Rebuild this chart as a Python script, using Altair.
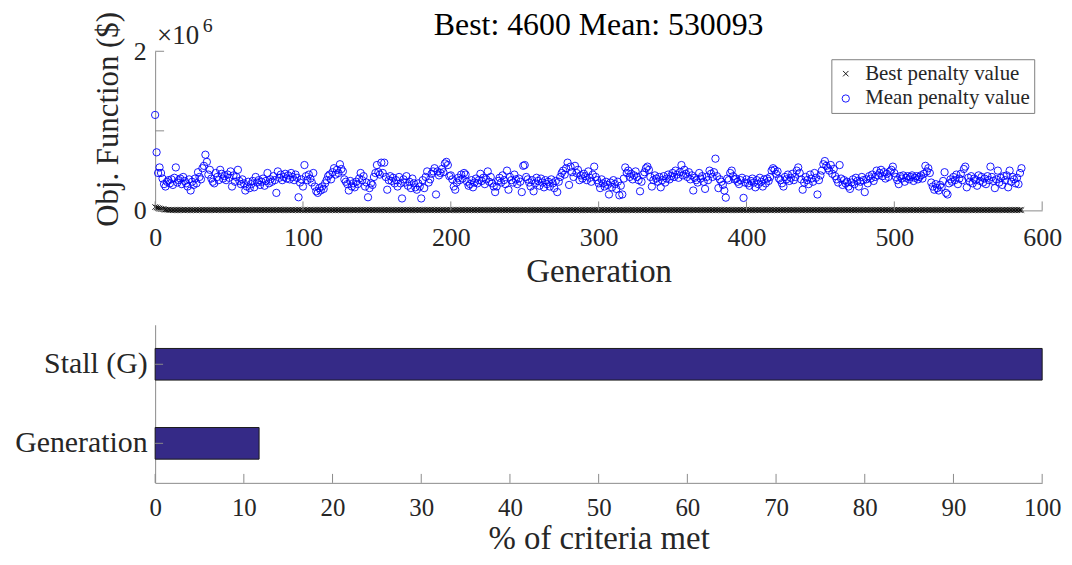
import altair as alt
import pandas as pd

# ---------------- data ----------------
# mean penalty value per generation (in thousands of $), generations 0..586
mean_k = [
    1200, 730, 470, 540, 470, 400, 330, 300, 360, 380,
    340, 390, 320, 410, 540, 350, 380, 400, 330, 420,
    370, 340, 300, 390, 250, 360, 320, 400, 340, 480,
    420, 390, 530, 560, 700, 610, 450, 510, 400, 360,
    340, 470, 420, 380, 510, 460, 400, 430, 380, 450,
    410, 490, 300, 440, 360, 420, 510, 370, 330, 390,
    340, 250, 300, 360, 280, 330, 370, 290, 420, 350,
    380, 320, 360, 400, 310, 370, 470, 340, 390, 360,
    430, 380, 220, 490, 410, 450, 380, 420, 460, 400,
    440, 390, 470, 420, 380, 450, 410, 165, 350, 390,
    300, 570, 430, 380, 450, 400, 350, 470, 300, 240,
    220, 280, 250, 300, 270, 340, 380, 430, 450, 390,
    480, 530, 450, 510, 470, 580, 520, 490, 390, 360,
    330, 250, 370, 300, 340, 290, 360, 330, 400, 470,
    380, 430, 300, 350, 165, 280, 340, 320, 420, 470,
    570, 480, 450, 600, 470, 600, 420, 260, 380, 430,
    370, 410, 340, 380, 300, 420, 340, 150, 390, 350,
    430, 310, 360, 280, 400, 340, 290, 260, 340, 300,
    150, 380, 280, 420, 490, 350, 390, 460, 490, 530,
    200, 490, 440, 470, 520, 480, 590, 610, 570, 430,
    440, 390, 300, 260, 350, 410, 380, 450, 400, 470,
    450, 360, 310, 330, 380, 290, 350, 400, 340, 380,
    460, 370, 410, 330, 390, 490, 360, 420, 340, 300,
    230, 300, 370, 410, 350, 440, 380, 330, 500, 260,
    420, 380, 350, 450, 390, 330, 400, 360, 230, 560,
    570, 420, 390, 350, 300, 380, 240, 340, 410, 370,
    310, 400, 350, 290, 380, 330, 360, 300, 390, 340,
    280, 370, 230, 360, 420, 470, 500, 450, 530, 600,
    320, 550, 480, 420, 560, 470, 510, 380, 440, 400,
    460, 430, 380, 490, 410, 360, 450, 550, 420, 380,
    340, 280, 390, 340, 300, 360, 320, 200, 350, 290,
    380, 330, 270, 360, 190, 310, 200, 400, 540, 470,
    500, 420, 460, 390, 440, 490, 420, 380, 240, 360,
    450, 480, 530, 550, 510, 420, 300, 380, 440, 400,
    360, 420, 290, 380, 430, 350, 400, 450, 390, 430,
    470, 420, 500, 450, 410, 480, 570, 440, 510, 460,
    420, 480, 390, 440, 250, 410, 380, 350, 470, 400,
    430, 360, 270, 420, 380, 500, 460, 420, 480, 650,
    430, 280, 390, 360, 320, 250, 160, 400, 380, 470,
    500, 430, 390, 400, 360, 330, 380, 410, 157, 350,
    390, 340, 310, 370, 400, 350, 290, 380, 330, 410,
    360, 300, 390, 340, 400, 370, 420, 500, 530, 510,
    460, 490, 400, 380, 340, 300, 420, 390, 450, 370,
    410, 460, 380, 420, 500, 540, 470, 390, 260, 350,
    420, 380, 330, 450, 400, 360, 470, 410, 200, 380,
    440, 500, 580, 620, 560, 530, 500, 570, 460, 520,
    430, 390, 350, 570, 400, 320, 380, 340, 360, 300,
    270, 350, 390, 330, 410, 370, 300, 360, 420, 380,
    230, 390, 340, 430, 400, 450, 370, 420, 500, 440,
    470, 510, 430, 480, 400, 460, 420, 490, 510, 550,
    470, 420, 380, 330, 430, 400, 440, 360, 410, 430,
    390, 420, 440, 370, 410, 430, 390, 420, 440, 400,
    460, 560, 490, 530, 470, 350, 300, 260, 330, 280,
    250, 320, 290, 370, 480, 220, 200, 340, 390, 360,
    420, 380, 450, 330, 400, 460, 380, 520, 550, 290,
    410, 360, 430, 340, 400, 380, 310, 440, 370, 420,
    350, 400, 330, 430, 380, 550, 420, 370, 280, 390,
    500, 350, 410, 320, 430, 380, 440, 290, 500, 360,
    420, 390, 340, 410, 330, 470, 530.093,
]
n_gen = len(mean_k)
generations = list(range(n_gen))

# best penalty value ($): early decline, then stalled at 4600
best_head = [42000, 36000, 30000, 25000, 20000, 16000, 13000, 10000, 8000, 6500, 5500, 5000]
best_stall = 4600
best = best_head + [best_stall] * (n_gen - len(best_head))

series_names = ["Best penalty value", "Mean penalty value"]

criteria = ["Stall (G)", "Generation"]
criteria_pct = [100.0, 11.72]

top_xticks = [0, 100, 200, 300, 400, 500, 600]
top_yticks = [0, 1, 2]
bot_xticks = [0, 10, 20, 30, 40, 50, 60, 70, 80, 90, 100]

title_text = "Best: 4600 Mean: 530093"

# ---------------- tables ----------------
pts = pd.DataFrame({
    "gen": generations * 2,
    "val": [b / 1e6 for b in best] + [m / 1e3 for m in mean_k],
    "series": [series_names[0]] * n_gen + [series_names[1]] * n_gen,
})
bars_df = pd.DataFrame({"crit": criteria, "pct": criteria_pct})

# ---------------- style ----------------
FONT = "Liberation Serif"
AX = "#8a8a8a"
TXT = "#262626"
W = 892
H1 = 160
H2 = 159
TICK = 9
XPATH = "M-1,-1L1,1M-1,1L1,-1"

xsc = alt.Scale(domain=[0, 600], nice=False, zero=False)
ysc = alt.Scale(domain=[0, 2], nice=False)

leg = alt.Legend(
    title=None, orient="none", legendX=680, legendY=8, direction="vertical",
    strokeColor="#7f7f7f", fillColor="white", padding=4, rowPadding=3,
    labelFont=FONT, labelFontSize=21, labelColor=TXT, labelOffset=9, labelLimit=400,
    symbolStrokeWidth=0.9,
)

points = alt.Chart(pts).mark_point(filled=False, strokeWidth=0.9, opacity=1).encode(
    x=alt.X("gen:Q", scale=xsc, axis=alt.Axis(
        values=top_xticks, title="Generation", labelFontSize=26, labelPadding=14, labelFlush=False,
        titleFontSize=33, titleX=W / 2, titleY=72, titleBaseline="alphabetic")),
    y=alt.Y("val:Q", scale=ysc, axis=alt.Axis(
        values=top_yticks, format="d", title="Obj. Function ($)", labelFontSize=26, labelPadding=9,
        labelFlush=False,
        titleFontSize=31, titleAngle=270, titleX=-38, titleY=68,
        titleAlign="center", titleBaseline="alphabetic")),
    color=alt.Color("series:N", scale=alt.Scale(domain=series_names, range=["#000000", "#0000ff"]), legend=leg),
    shape=alt.Shape("series:N", scale=alt.Scale(domain=series_names, range=[XPATH, "circle"]), legend=leg),
    size=alt.Size("series:N", scale=alt.Scale(domain=series_names, range=[30, 54]), legend=leg),
)

xt_top = alt.Chart(pd.DataFrame({"gen": top_xticks})).mark_rule(color=AX, strokeWidth=1).encode(
    x=alt.X("gen:Q", scale=xsc), y=alt.value(H1), y2=alt.value(H1 - TICK))
yt_top = alt.Chart(pd.DataFrame({"val": top_yticks})).mark_rule(color=AX, strokeWidth=1).encode(
    y=alt.Y("val:Q", scale=ysc), x=alt.value(0), x2=alt.value(TICK))

title_mark = alt.Chart(pd.DataFrame({"t": [title_text]})).mark_text(
    font=FONT, fontSize=32, color="#000000", align="center", baseline="alphabetic").encode(
    text="t:N", x=alt.value(W / 2), y=alt.value(-16))
exp_base = alt.Chart(pd.DataFrame({"t": ["\u00d710"]})).mark_text(
    font=FONT, fontSize=27, color=TXT, align="left", baseline="alphabetic").encode(
    text="t:N", x=alt.value(2), y=alt.value(-7))
exp_pow = alt.Chart(pd.DataFrame({"t": ["6"]})).mark_text(
    font=FONT, fontSize=20, color=TXT, align="left", baseline="alphabetic").encode(
    text="t:N", x=alt.value(48), y=alt.value(-19))

top = alt.layer(points, xt_top, yt_top, title_mark, exp_base, exp_pow).properties(width=W, height=H1)

bxsc = alt.Scale(domain=[0, 100], nice=False)
bysc = alt.Scale(domain=criteria, paddingInner=0.6, paddingOuter=0.3)

bars = alt.Chart(bars_df).mark_bar(color="#352A87", stroke="#1a1a1a", strokeWidth=1).encode(
    x=alt.X("pct:Q", scale=bxsc, axis=alt.Axis(
        values=bot_xticks, title="% of criteria met", labelFontSize=25, labelPadding=13, labelFlush=False,
        titleFontSize=33, titleX=W / 2, titleY=66, titleBaseline="alphabetic")),
    y=alt.Y("crit:N", scale=bysc, sort=criteria, axis=alt.Axis(
        title=None, labelFontSize=30, labelPadding=8, labelLimit=400)),
)
xt_bot = alt.Chart(pd.DataFrame({"pct": bot_xticks})).mark_rule(color=AX, strokeWidth=1).encode(
    x=alt.X("pct:Q", scale=bxsc), y=alt.value(H2), y2=alt.value(H2 - TICK))
yt_bot = alt.Chart(pd.DataFrame({"crit": criteria})).mark_rule(color=AX, strokeWidth=1).encode(
    y=alt.Y("crit:N", scale=bysc, sort=criteria), x=alt.value(0), x2=alt.value(TICK - 1))

bottom = alt.layer(bars, xt_bot, yt_bot).properties(width=W, height=H2)

chart = alt.vconcat(top, bottom, spacing=36).properties(
    background="white", padding={"left": 14, "top": 8, "right": 10, "bottom": 2}
).configure_view(stroke=None).configure_axis(
    domainColor=AX, domainWidth=1, ticks=False, grid=False,
    labelFont=FONT, labelColor=TXT, titleFont=FONT, titleColor=TXT, titleFontWeight="normal",
)

chart.save("out.html", embed_options={"renderer": "svg", "actions": False})
